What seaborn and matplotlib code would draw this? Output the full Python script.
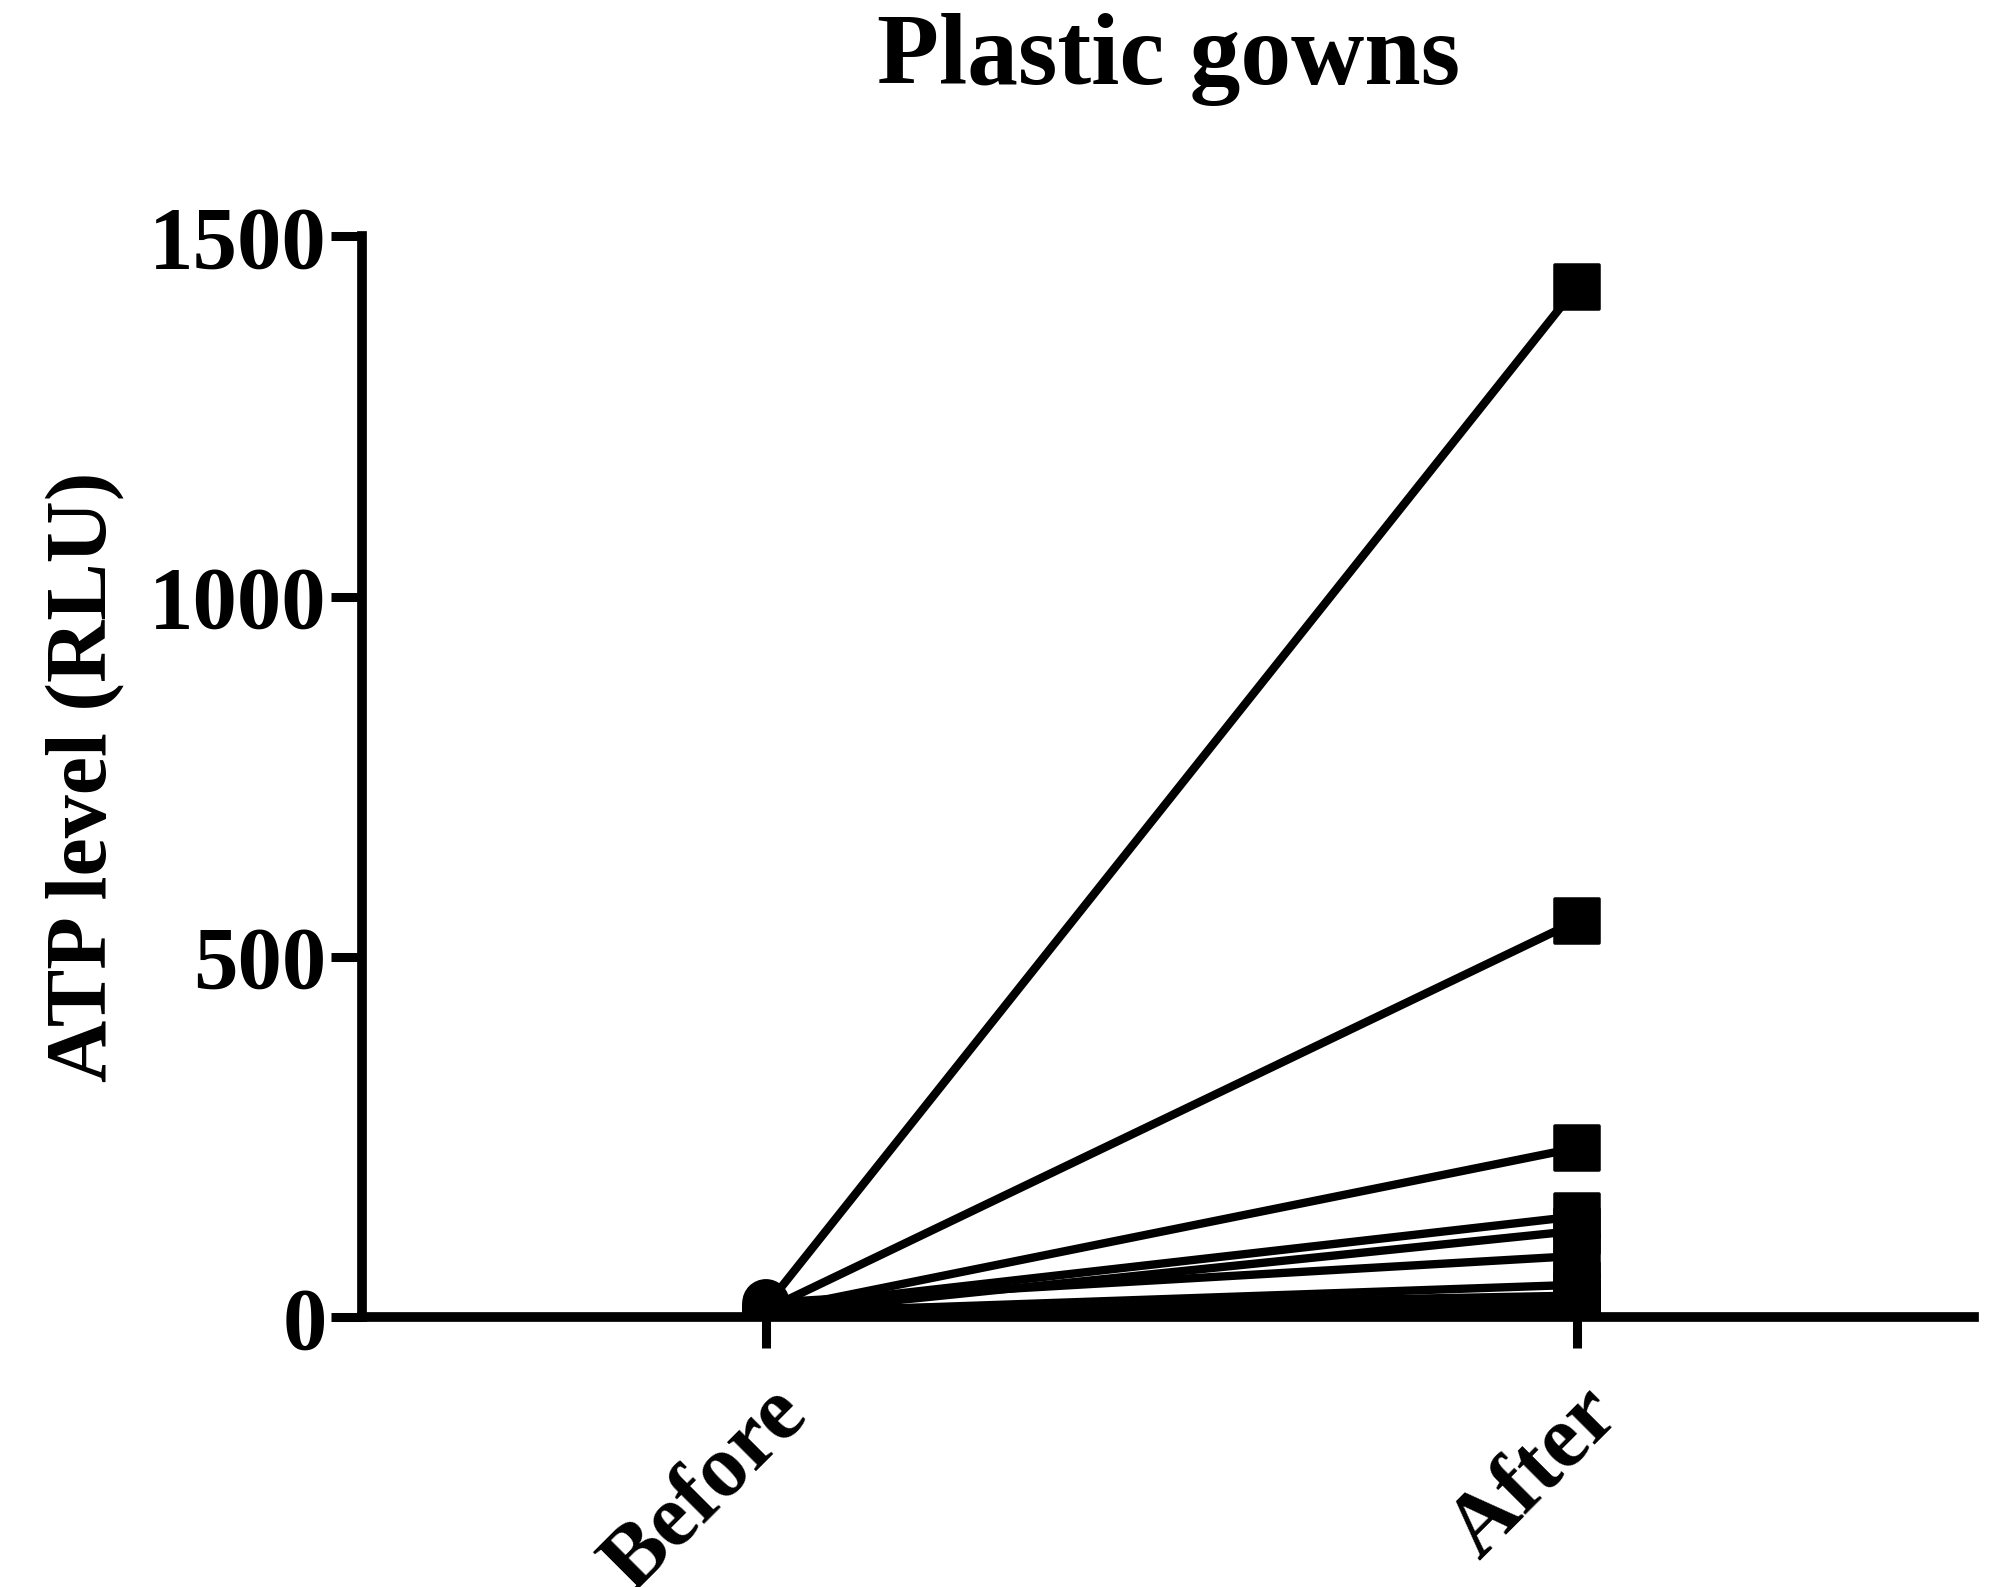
import matplotlib
matplotlib.use("Agg")
import matplotlib.pyplot as plt
import seaborn as sns
import pandas as pd

groups = ["Before", "After"]
before = [15, 10, 8, 12, 5, 20, 6, 9, 4, 7, 3, 11]
after = [1430, 550, 235, 140, 120, 85, 45, 30, 20, 12, 8, 5]

rows = []
for i, (b, a) in enumerate(zip(before, after)):
    rows.append({"id": i, "x": 0, "g": "Before", "v": b})
    rows.append({"id": i, "x": 1, "g": "After", "v": a})
df = pd.DataFrame(rows)

sns.set_style("ticks")
plt.rcParams['font.family'] = ['Liberation Serif', 'DejaVu Serif']
plt.rcParams['font.weight'] = 'bold'
plt.rcParams['text.color'] = 'black'
plt.rcParams['axes.labelcolor'] = 'black'
plt.rcParams['xtick.color'] = 'black'
plt.rcParams['ytick.color'] = 'black'
plt.rcParams['axes.edgecolor'] = 'black'

fig = plt.figure(figsize=(19.9, 15.87), dpi=100)
ax = fig.add_axes([0.182, 0.170, 0.81, 0.681])
sns.lineplot(data=df, x="x", y="v", units="id", estimator=None, color="black",
             lw=6, ax=ax, legend=False)
sns.scatterplot(data=df, x="x", y="v", style="g", markers={"Before": "o", "After": "s"},
                color="black", s=1000, ax=ax, legend=False, edgecolor="black", zorder=5)
ax.set_xlim(-0.498, 1.49)
ax.set_ylim(0, 1500)
ax.set_yticks([0, 500, 1000, 1500])
ax.set_xticks([0, 1])
ax.set_xticklabels(groups, rotation=45, ha="right", rotation_mode="anchor")
ax.tick_params(axis="both", labelsize=64, width=6.5, length=22, colors="black")
ax.tick_params(axis="x", pad=18)
for lab in ax.get_xticklabels() + ax.get_yticklabels():
    lab.set_fontweight("bold")
ax.set_xlabel("")
ax.set_ylabel("ATP level (RLU)", fontsize=62, fontweight="bold", labelpad=18, color="black")
ax.set_title("Plastic gowns", fontsize=73, fontweight="bold", pad=110, color="black")
for s in ["top", "right"]:
    ax.spines[s].set_visible(False)
for s in ["left", "bottom"]:
    ax.spines[s].set_linewidth(7)
    ax.spines[s].set_color("black")
ax.spines["bottom"].set_zorder(1)
fig.savefig("out.png", dpi=100)
